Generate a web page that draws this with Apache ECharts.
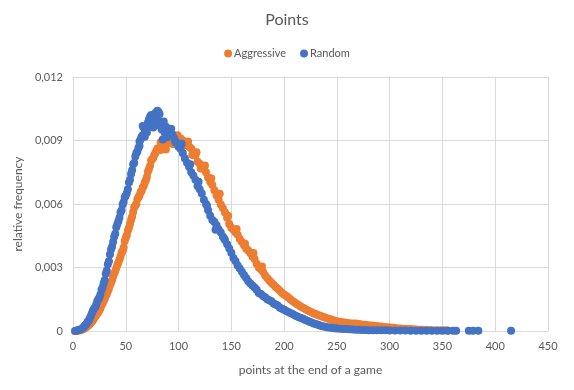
<!DOCTYPE html>
<html><head><meta charset="utf-8">
<script src="https://cdn.jsdelivr.net/npm/echarts@6/dist/echarts.min.js"></script>
<style>html,body{margin:0;padding:0;background:#fff}#c{width:574px;height:390px}</style>
</head><body><div id="c"></div>
<script>
const xTicks = [0,50,100,150,200,250,300,350,400,450];
const yTicks = [0,0.003,0.006,0.009,0.012];

const aggressiveX = [2,3,4,5,6,7,8,9,10,11,12,13,14,15,16,17,18,19,20,21,22,23,24,25,26,27,28,29,30,31,32,33,34,35,36,37,38,39,40,41,42,43,44,45,46,47,48,49,50,51,52,53,54,55,56,57,58,59,60,61,62,63,64,65,66,67,68,69,70,71,72,73,74,75,76,77,78,79,80,81,82,83,84,85,86,87,88,89,90,
92,94,96,98,100,102,104,106,108,110,112,114,116,118,120,122,124,126,128,130,132,134,136,138,140,142,144,146,148,150,152,154,156,158,160,162,164,166,168,170,172,174,176,178,180,182,184,186,188,190,192,194,196,198,200,202,204,206,208,210,212,214,216,218,220,222,224,226,228,230,232,234,236,238,240,242,244,246,248,250,
253,256,259,262,265,268,271,274,277,280,283,286,289,292,295,298,301,304,307,310,313,316,319,322,325,328,331,334,337,340,344,348,352,355,
83,88,91,95,99,105,109,113,117,121,125,131,139,147,155,163,171,179];
const aggressiveY = [0,0,0.00001,0.00002,0.00003,0.00004,0.00006,0.00008,0.0001,0.00013,0.00016,0.0002,0.00025,0.00028,0.00033,0.0004,0.00045,0.00052,0.0006,0.00068,0.00075,0.00082,0.0009,0.00098,0.00108,0.00122,0.0013,0.00142,0.00152,0.00165,0.00175,0.00188,0.002,0.00215,0.00228,0.0024,0.00258,0.00272,0.00282,0.00298,0.00312,0.00322,0.00338,0.00352,0.0037,0.00378,0.00395,0.00425,0.0044,0.00452,0.00475,0.00488,0.00505,0.00525,0.0054,0.00562,0.00585,0.00592,0.006,0.00622,0.00632,0.0064,0.00655,0.00662,0.00678,0.00685,0.007,0.00712,0.00728,0.00752,0.00765,0.0078,0.00805,0.00812,0.00818,0.00832,0.0084,0.00852,0.00862,0.00858,0.00865,0.00855,0.0087,0.00885,0.00878,0.00895,0.0088,0.009,0.00888,
0.00905,0.00895,0.00912,0.00905,0.00895,0.0091,0.009,0.00892,0.0088,0.0087,0.00862,0.00845,0.0083,0.008,0.0079,0.00778,0.00765,0.0075,0.00725,0.00705,0.0069,0.00665,0.0064,0.0062,0.00598,0.0058,0.0056,0.00535,0.00505,0.00488,0.00478,0.00465,0.00455,0.00435,0.0042,0.00405,0.0039,0.0038,0.00368,0.00352,0.0034,0.00318,0.003,0.00292,0.0028,0.00262,0.0025,0.00238,0.00228,0.00218,0.00208,0.002,0.0019,0.0018,0.00172,0.00165,0.00158,0.0015,0.00142,0.00135,0.00128,0.00122,0.00115,0.0011,0.00104,0.00098,0.00093,0.00088,0.00083,0.0008,0.00076,0.00072,0.00069,0.00065,0.00062,0.00058,0.00055,0.00052,0.00049,0.00046,
0.00044,0.00041,0.00039,0.00037,0.00036,0.00035,0.00033,0.00031,0.00029,0.00027,0.00026,0.00025,0.00023,0.00021,0.00019,0.00018,0.00016,0.00015,0.00013,0.00012,0.00011,0.0001,0.00009,0.00008,0.00007,0.00006,0.00006,0.00005,0.00005,0.00004,0.00004,0.00003,0.00003,0.00002,
0.00892,0.00858,0.00915,0.00882,0.00925,0.00878,0.00895,0.00832,0.00845,0.00768,0.00782,0.00722,0.00648,0.00545,0.00482,0.00412,0.00368,0.00305];

const randomX = [2,4,6,8,10,11,12,13,14,15,16,17,18,19,20,21,22,23,24,25,26,27,28,29,30,31,32,33,34,35,36,37,38,39,40,41,42,43,44,45,46,47,48,49,50,51,52,53,54,55,56,57,58,59,60,61,62,63,64,65,66,67,68,69,70,71,72,73,74,75,76,77,78,79,80,81,82,83,84,85,86,87,88,
90,92,94,96,98,100,102,104,106,108,110,112,114,116,118,120,122,124,126,128,130,132,134,136,138,140,142,144,146,148,150,152,154,156,158,160,162,164,166,168,170,172,174,176,178,180,182,184,186,188,190,192,194,196,198,200,202,204,206,208,210,212,214,216,218,220,222,224,226,228,230,232,234,236,238,240,242,244,246,248,250,
253,256,259,262,265,268,271,274,277,280,284,288,292,296,300,305,310,315,320,325,330,335,340,345,350,355,360,363,375,379,384,415,
63,66,68,70,72,74,76,79,81,84,87,89,93,97,103,111,119,127,135,143];
const randomY = [0,0.00003,0.00006,0.0001,0.00018,0.00024,0.0003,0.00036,0.00045,0.0005,0.00062,0.00072,0.00085,0.00098,0.00105,0.00112,0.00125,0.0014,0.0015,0.00158,0.00172,0.00195,0.00205,0.00225,0.0024,0.0027,0.00285,0.00315,0.0033,0.00362,0.00385,0.00398,0.0042,0.00445,0.0046,0.0049,0.00505,0.00518,0.00535,0.0056,0.0057,0.00598,0.0061,0.00632,0.0064,0.00652,0.0067,0.00702,0.00715,0.00742,0.0076,0.00788,0.00795,0.00825,0.0084,0.00848,0.00865,0.00895,0.00905,0.00918,0.00925,0.00962,0.0095,0.0094,0.00965,0.00985,0.01,0.01012,0.0102,0.00965,0.00985,0.00995,0.0103,0.01,0.0104,0.01035,0.01025,0.0099,0.00975,0.00905,0.0099,0.0096,0.00965,
0.00955,0.00945,0.0093,0.0091,0.0089,0.0087,0.0086,0.0084,0.00815,0.00795,0.00775,0.0075,0.00735,0.00715,0.00685,0.0067,0.0065,0.0062,0.006,0.0057,0.00545,0.00525,0.00515,0.005,0.0048,0.00465,0.00445,0.0043,0.0041,0.0039,0.0037,0.00345,0.0033,0.0031,0.00295,0.0028,0.00265,0.0025,0.00235,0.00225,0.00215,0.00205,0.00195,0.0018,0.00175,0.00165,0.0016,0.0015,0.00145,0.0014,0.0013,0.00125,0.0012,0.0011,0.00105,0.001,0.00095,0.0009,0.00085,0.0008,0.00075,0.0007,0.00065,0.00062,0.00058,0.00052,0.00048,0.00044,0.0004,0.00036,0.00033,0.0003,0.00026,0.00023,0.00021,0.00019,0.00017,0.00016,0.00014,0.00013,0.00012,
0.00011,0.0001,0.00009,0.00008,0.00007,0.00006,0.00006,0.00005,0.00005,0.00004,0.00004,0.00003,0.00003,0.00003,0.00002,0.00002,0.00002,0.00002,0.00001,0.00001,0.00001,0.00001,0.00001,0.00001,0.00001,0.00001,0.00001,0.00001,0.00001,0.00001,0.00001,0.00001,
0.00875,0.00968,0.00918,0.00938,0.00968,0.00985,0.00962,0.00972,0.00985,0.00952,0.00935,0.00915,0.00955,0.00892,0.00885,0.00788,0.00705,0.00592,0.00478,0.00438];

const zip = (xs, ys) => xs.map((x, i) => [x, ys[i]]);
const FONT = 'Lato, "Open Sans", sans-serif';
const chart = echarts.init(document.getElementById('c'), null, {renderer: 'canvas'});
chart.setOption({
  animation: false,
  backgroundColor: '#fff',
  textStyle: {fontFamily: FONT},
  title: {text: 'Points', left: 'center', top: 7, textStyle: {fontFamily: FONT, fontSize: 16, fontWeight: 'normal', color: '#595959'}},
  legend: {top: 43, left: 'center', itemWidth: 8, itemHeight: 8, itemGap: 14, icon: 'circle',
    textStyle: {fontFamily: FONT, fontSize: 11, color: '#595959', padding: [0, 0, 0, -3]},
    data: ['Aggressive', 'Random']},
  grid: {left: 73, right: 26, top: 77, bottom: 59, containLabel: false},
  xAxis: {type: 'value', min: xTicks[0], max: xTicks[xTicks.length - 1], interval: 50,
    name: 'points at the end of a game', nameLocation: 'middle', nameGap: 33,
    nameTextStyle: {fontFamily: FONT, fontSize: 12, color: '#595959'},
    axisLine: {show: true, lineStyle: {color: '#d9d9d9'}}, axisTick: {show: false},
    axisLabel: {color: '#595959', fontSize: 11, fontFamily: FONT, margin: 10},
    splitLine: {show: true, lineStyle: {color: '#d9d9d9'}}},
  yAxis: {type: 'value', min: yTicks[0], max: yTicks[yTicks.length - 1], interval: 0.003,
    name: 'relative frequency', nameLocation: 'middle', nameGap: 48,
    nameTextStyle: {fontFamily: FONT, fontSize: 12, color: '#595959'},
    axisLine: {show: false}, axisTick: {show: false},
    axisLabel: {color: '#595959', fontSize: 11, fontFamily: FONT, margin: 10,
      formatter: v => v === 0 ? '0' : v.toFixed(3).replace('.', ',')},
    splitLine: {show: true, lineStyle: {color: '#d9d9d9'}}},
  series: [
    {name: 'Aggressive', type: 'scatter', symbolSize: 8, itemStyle: {color: '#ED7D31', opacity: 1}, data: zip(aggressiveX, aggressiveY)},
    {name: 'Random', type: 'scatter', symbolSize: 8, itemStyle: {color: '#4472C4', opacity: 1}, data: zip(randomX, randomY)}
  ]
});
</script></body></html>
